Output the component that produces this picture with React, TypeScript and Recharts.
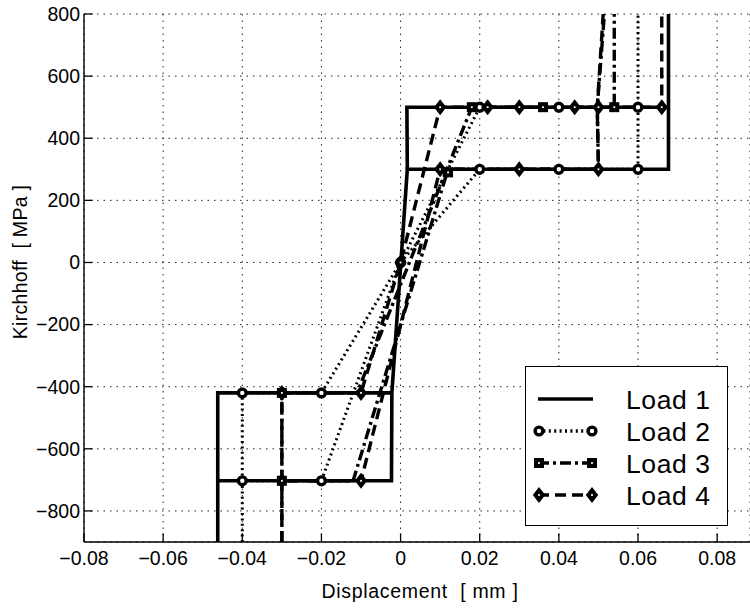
import React from 'react';
import { ComposedChart, Line, Scatter, XAxis, YAxis, CartesianGrid, Legend } from 'recharts';

type Pt = { x: number; y: number };

const xTicks = [-0.08, -0.06, -0.04, -0.02, 0, 0.02, 0.04, 0.06, 0.08];
const yTicks = [-800, -600, -400, -200, 0, 200, 400, 600, 800];
const loadNames = ['Load 1', 'Load 2', 'Load 3', 'Load 4'];

// Load 1 (solid, no markers)
const load1Main: Pt[] = [
  { x: -0.0462, y: -900 }, { x: -0.0462, y: -703 }, { x: -0.0023, y: -703 }, { x: -0.0022, y: -420 },
  { x: 0.0017, y: 300 }, { x: 0.0677, y: 300 }, { x: 0.0677, y: 800 },
];
const load1Comp: Pt[] = [{ x: -0.0462, y: -703 }, { x: -0.0462, y: -420 }, { x: -0.0022, y: -420 }];
const load1Tens: Pt[] = [{ x: 0.0017, y: 300 }, { x: 0.0016, y: 500 }, { x: 0.0677, y: 500 }];

// Load 2 (dotted, circles)
const load2A: Pt[] = [
  { x: -0.04, y: -900 }, { x: -0.04, y: -703 }, { x: -0.02, y: -703 }, { x: 0, y: 0 },
  { x: 0.02, y: 300 }, { x: 0.04, y: 300 }, { x: 0.06, y: 300 }, { x: 0.06, y: 800 },
];
const load2B: Pt[] = [
  { x: -0.04, y: -703 }, { x: -0.04, y: -420 }, { x: -0.02, y: -420 }, { x: 0, y: 0 },
  { x: 0.02, y: 500 }, { x: 0.04, y: 500 }, { x: 0.06, y: 500 },
];
const load2Marks: Pt[] = [
  { x: -0.04, y: -703 }, { x: -0.02, y: -703 }, { x: -0.04, y: -420 }, { x: -0.02, y: -420 },
  { x: 0, y: 0 }, { x: 0.02, y: 300 }, { x: 0.04, y: 300 }, { x: 0.06, y: 300 },
  { x: 0.02, y: 500 }, { x: 0.04, y: 500 }, { x: 0.06, y: 500 },
];

// Load 3 (dash-dot, squares)
const load3A: Pt[] = [
  { x: -0.03, y: -900 }, { x: -0.03, y: -703 }, { x: -0.012, y: -703 }, { x: 0.012, y: 300 },
  { x: 0.05, y: 300 }, { x: 0.0497, y: 500 }, { x: 0.0515, y: 800 },
];
const load3B: Pt[] = [
  { x: -0.03, y: -703 }, { x: -0.03, y: -420 }, { x: -0.011, y: -420 }, { x: 0.018, y: 500 },
  { x: 0.036, y: 500 }, { x: 0.054, y: 500 }, { x: 0.054, y: 800 },
];
const load3Marks: Pt[] = [
  { x: -0.03, y: -703 }, { x: -0.03, y: -420 }, { x: 0.012, y: 290 },
  { x: 0.018, y: 500 }, { x: 0.036, y: 500 }, { x: 0.054, y: 500 },
];

// Load 4 (dashed, diamonds)
const load4A: Pt[] = [
  { x: -0.03, y: -900 }, { x: -0.03, y: -703 }, { x: -0.01, y: -703 }, { x: 0.01, y: 300 },
  { x: 0.03, y: 300 }, { x: 0.05, y: 300 }, { x: 0.0497, y: 500 }, { x: 0.0512, y: 800 },
];
const load4B: Pt[] = [
  { x: -0.03, y: -703 }, { x: -0.03, y: -420 }, { x: -0.01, y: -420 }, { x: 0, y: 0 },
  { x: 0.01, y: 500 }, { x: 0.022, y: 500 }, { x: 0.03, y: 500 }, { x: 0.044, y: 500 },
  { x: 0.05, y: 500 }, { x: 0.066, y: 500 }, { x: 0.066, y: 800 },
];
const load4Marks: Pt[] = [
  { x: -0.03, y: -703 }, { x: -0.01, y: -703 }, { x: -0.03, y: -420 }, { x: -0.01, y: -420 },
  { x: 0, y: 0 }, { x: 0.01, y: 300 }, { x: 0.03, y: 300 }, { x: 0.05, y: 300 },
  { x: 0.01, y: 500 }, { x: 0.022, y: 500 }, { x: 0.03, y: 500 }, { x: 0.044, y: 500 },
  { x: 0.05, y: 500 }, { x: 0.066, y: 500 },
];

const FONT = "'Liberation Sans', Arial, Helvetica, sans-serif";
const DOTTED = '2 3.4';
const DASHDOT = '11 4 3 4';
const DASHED = '11 6';

const fmt = (v: number) => (v === 0 ? '0' : String(v).replace('-', '\u2212'));

const XTick = (props: any) => {
  const { x, y, payload } = props;
  return (
    <g>
      <line x1={x} y1={y} x2={x} y2={y - 8.7} stroke="#000" strokeWidth={1.3} />
      <text x={x} y={y + 23} textAnchor="middle" fontSize={19.5} fontFamily={FONT} fill="#000">
        {fmt(payload.value)}
      </text>
    </g>
  );
};

const YTick = (props: any) => {
  const { x, y, payload } = props;
  return (
    <g>
      <line x1={x} y1={y} x2={x + 8.7} y2={y} stroke="#000" strokeWidth={1.3} />
      <text x={x - 4} y={y + 6.9} textAnchor="end" fontSize={19.5} fontFamily={FONT} fill="#000">
        {fmt(payload.value)}
      </text>
    </g>
  );
};

const Circle = ({ cx, cy }: { cx: number; cy: number }) => (
  <circle cx={cx} cy={cy} r={3.9} fill="#fff" stroke="#000" strokeWidth={3.4} />
);
const Square = ({ cx, cy }: { cx: number; cy: number }) => (
  <g>
    <rect x={cx - 5} y={cy - 5} width={10} height={10} fill="#000" />
    <rect x={cx - 0.9} y={cy - 0.9} width={1.8} height={1.8} fill="#fff" />
  </g>
);
const Diamond = ({ cx, cy }: { cx: number; cy: number }) => (
  <g>
    <path d={`M${cx},${cy - 8}L${cx + 6.2},${cy}L${cx},${cy + 8}L${cx - 6.2},${cy}Z`} fill="#000" />
    <rect x={cx - 0.9} y={cy - 0.9} width={1.8} height={1.8} fill="#fff" />
  </g>
);

const legendStyles = [
  { dash: undefined, marker: null as any },
  { dash: DOTTED, marker: Circle },
  { dash: DASHDOT, marker: Square },
  { dash: DASHED, marker: Diamond },
];

const LegendBox = () => (
  <div style={{ width: 203, height: 160, boxSizing: 'border-box', border: '1px solid #000', background: '#fff' }}>
    <svg width={201} height={158}>
      {loadNames.map((name, i) => {
        const cy = 32 + i * 32;
        const M = legendStyles[i].marker;
        return (
          <g key={name}>
            <line x1={12} y1={cy} x2={67} y2={cy} stroke="#000" strokeWidth={3.4} strokeDasharray={legendStyles[i].dash} />
            {M && <M cx={13} cy={cy} />}
            {M && <M cx={66} cy={cy} />}
            <text x={100} y={cy + 9.5} fontSize={26.5} fontFamily={FONT} letterSpacing={0.6} fill="#000">
              {name}
            </text>
          </g>
        );
      })}
    </svg>
  </div>
);

const lineProps = { dataKey: 'y', stroke: '#000', dot: false, activeDot: false, isAnimationActive: false, strokeLinecap: 'butt' as const };

export default function App() {
  return (
    <div style={{ position: 'absolute', left: 0, top: 0, width: 750, height: 610, background: '#fff' }}>
      <ComposedChart width={750} height={610} margin={{ top: 14, right: 0, bottom: 0, left: 0 }}>
        <CartesianGrid stroke="#222" strokeWidth={1} strokeDasharray="1.5 5" />
        <XAxis
          type="number"
          dataKey="x"
          domain={[-0.08, 0.0883]}
          allowDataOverflow
          ticks={xTicks}
          height={68}
          tickSize={0}
          tickMargin={0}
          tickLine={false}
          axisLine={{ stroke: '#000', strokeWidth: 1.4 }}
          tick={XTick}
          interval={0}
          label={{
            content: () => (
              <text x={420} y={598} textAnchor="middle" fontSize={19.5} fontFamily={FONT} letterSpacing={0.7} style={{ whiteSpace: 'pre' }} fill="#000">
                {'Displacement  [ mm ]'}
              </text>
            ),
          }}
        />
        <YAxis
          type="number"
          dataKey="y"
          domain={[-900, 800]}
          allowDataOverflow
          ticks={yTicks}
          width={84}
          tickSize={0}
          tickMargin={0}
          tickLine={false}
          axisLine={{ stroke: '#000', strokeWidth: 1.4 }}
          tick={YTick}
          interval={0}
          label={{
            content: () => (
              <text transform="translate(27,262) rotate(-90)" textAnchor="middle" fontSize={19.5} fontFamily={FONT} letterSpacing={0.3} style={{ whiteSpace: 'pre' }} fill="#000">
                {'Kirchhoff  [ MPa ]'}
              </text>
            ),
          }}
        />
        <Line data={load1Main} {...lineProps} strokeWidth={3.6} />
        <Line data={load1Comp} {...lineProps} strokeWidth={3.6} />
        <Line data={load1Tens} {...lineProps} strokeWidth={3.6} />
        <Line data={load2A} {...lineProps} strokeWidth={3} strokeDasharray={DOTTED} />
        <Line data={load2B} {...lineProps} strokeWidth={3} strokeDasharray={DOTTED} />
        <Line data={load3A} {...lineProps} strokeWidth={3.4} strokeDasharray={DASHDOT} />
        <Line data={load3B} {...lineProps} strokeWidth={3.4} strokeDasharray={DASHDOT} />
        <Line data={load4A} {...lineProps} strokeWidth={3.4} strokeDasharray={DASHED} />
        <Line data={load4B} {...lineProps} strokeWidth={3.4} strokeDasharray={DASHED} />
        <Scatter data={load3Marks} shape={Square} isAnimationActive={false} />
        <Scatter data={load2Marks} shape={Circle} isAnimationActive={false} />
        <Scatter data={load4Marks} shape={Diamond} isAnimationActive={false} />
        <Legend
          layout="vertical"
          align="center"
          verticalAlign="middle"
          wrapperStyle={{ left: 525, top: 366, width: 203, height: 160 }}
          content={() => <LegendBox />}
        />
      </ComposedChart>
    </div>
  );
}
